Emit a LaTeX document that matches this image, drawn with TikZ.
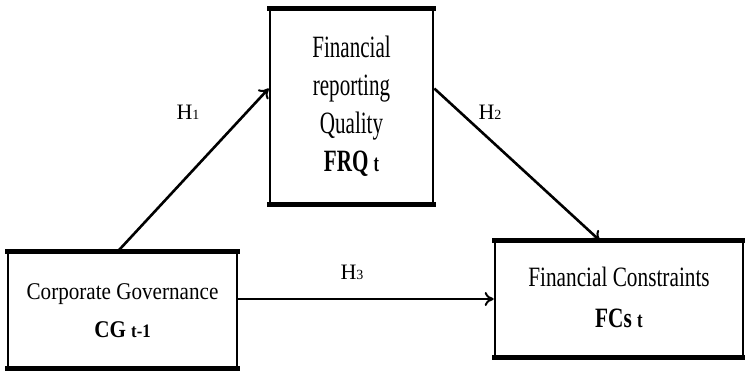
\documentclass[tikz,border=0pt]{standalone}
\usepackage{fontspec}
\setmainfont{Liberation Serif}
\usetikzlibrary{arrows.meta}
\tikzset{
  box/.style={draw, line width=2.6pt, inner sep=0pt, align=center},
  edgeline/.style={line width=5.5pt},
  arr/.style={line width=2.6pt, -{To[length=9pt,width=14pt,line width=2pt]}},
  hlab/.style={inner sep=0pt, font=\fontsize{22}{24}\selectfont}
}
\newcommand{\sz}[2]{\fontsize{#1}{#2}\selectfont}
\begin{document}
\begin{tikzpicture}[x=1pt,y=-1pt]
\useasboundingbox (0,0) rectangle (745,372);
% boxes
\node[box, minimum width=229pt, minimum height=114pt] (cg) at (122.5,310)
  {\scalebox{0.88}[1]{\sz{24}{40}\begin{tabular}{@{}c@{}}Corporate Governance\\[-2pt]\textbf{CG {\sz{19}{20}t-1}}\end{tabular}}};
\node[box, minimum width=163pt, minimum height=193pt] (frq) at (351.5,106.5)
  {\scalebox{0.68}[1]{\sz{31}{38}\begin{tabular}{@{}c@{}}Financial\\reporting\\Quality\\\textbf{FRQ {\sz{24}{26}t}}\end{tabular}}};
\node[box, minimum width=248pt, minimum height=114pt] (fcs) at (619,299)
  {\scalebox{0.76}[1]{\sz{28}{41}\begin{tabular}{@{}c@{}}Financial Constraints\\\textbf{FCs {\sz{22}{24}t}}\end{tabular}}};
% thicker top and bottom edges
\foreach \n in {cg,frq,fcs}{
  \draw[edgeline] ([xshift=-1.3pt]\n.north west) -- ([xshift=1.3pt]\n.north east);
  \draw[edgeline] ([xshift=-1.3pt]\n.south west) -- ([xshift=1.3pt]\n.south east);
}
% connectors
\draw[arr] ([xshift=-5pt]cg.north) -- ([yshift=18pt]frq.west);
\draw[arr] ([yshift=18pt]frq.east) -- ([xshift=-19pt]fcs.north);
\draw[arr] (cg.east |- fcs.west) -- (fcs.west);
% labels
\node[hlab] (h1) at (188,112) {H{\sz{14}{16}1}};
\node[hlab] (h2) at (490,112) {H{\sz{14}{16}2}};
\node[hlab] (h3) at (352,272) {H{\sz{14}{16}3}};
\end{tikzpicture}
\end{document}
